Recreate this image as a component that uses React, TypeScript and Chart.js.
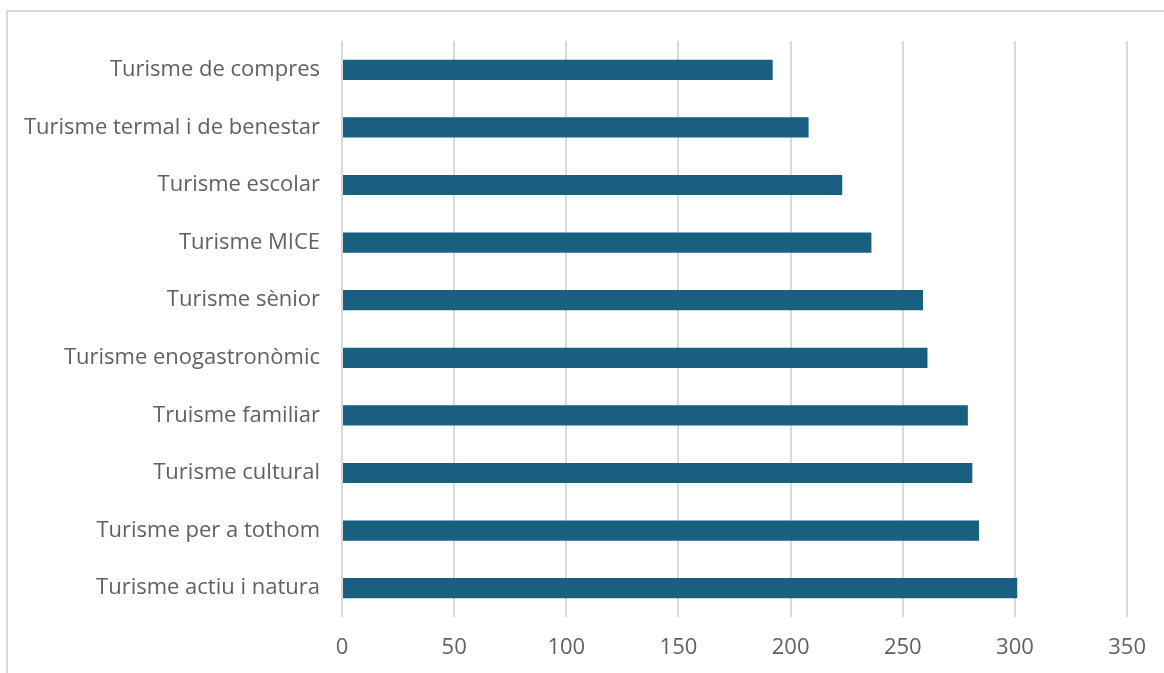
import React, { useEffect, useRef } from "react";
import { Chart, registerables } from "chart.js";

Chart.register(...registerables);

const categories = [
  "Turisme de compres",
  "Turisme termal i de benestar",
  "Turisme escolar",
  "Turisme MICE",
  "Turisme sènior",
  "Turisme enogastronòmic",
  "Truisme familiar",
  "Turisme cultural",
  "Turisme per a tothom",
  "Turisme actiu i natura",
];
const values = [192, 208, 223, 236, 259, 261, 279, 281, 284, 301];
const xMin = 0;
const xMax = 350;
const xStep = 50;

export default function App() {
  const ref = useRef<HTMLCanvasElement | null>(null);
  useEffect(() => {
    document.body.style.margin = "0";
    document.body.style.overflow = "hidden";
    const ctx = ref.current!;
    const font = { family: "'Open Sans', sans-serif", size: 22 };
    const chart = new Chart(ctx, {
      type: "bar",
      data: {
        labels: categories,
        datasets: [
          {
            data: values,
            backgroundColor: "#195f80",
            borderWidth: 0,
            categoryPercentage: 1,
            barPercentage: 0.35,
          },
        ],
      },
      options: {
        indexAxis: "y",
        animation: false,
        responsive: false,
        devicePixelRatio: 1,
        layout: { padding: { top: 41, right: 36, left: 0, bottom: 0 } },
        plugins: { legend: { display: false }, tooltip: { enabled: false } },
        scales: {
          x: {
            min: xMin,
            max: xMax,
            ticks: { stepSize: xStep, color: "#616161", font, padding: 18 },
            grid: { color: "#d9d9d9", lineWidth: 2, drawTicks: false },
            border: { display: false },
            afterFit: (s: any) => {
              s.height = 56;
            },
          },
          y: {
            ticks: { color: "#616161", font, padding: 22 },
            grid: { display: false, drawTicks: false },
            border: { display: false },
            afterFit: (s: any) => {
              s.width = 342;
            },
          },
        },
      },
    });
    return () => chart.destroy();
  }, []);
  return (
    <div style={{ position: "fixed", left: 0, top: 0, width: 1164, height: 673, background: "#fff", overflow: "hidden" }}>
      <div
        style={{
          position: "absolute",
          left: 6,
          top: 10,
          width: 1200,
          height: 700,
          border: "2px solid #d9d9d9",
          boxSizing: "border-box",
        }}
      />
      <canvas ref={ref} width={1164} height={673} style={{ position: "absolute", left: 0, top: 0 }} />
    </div>
  );
}
